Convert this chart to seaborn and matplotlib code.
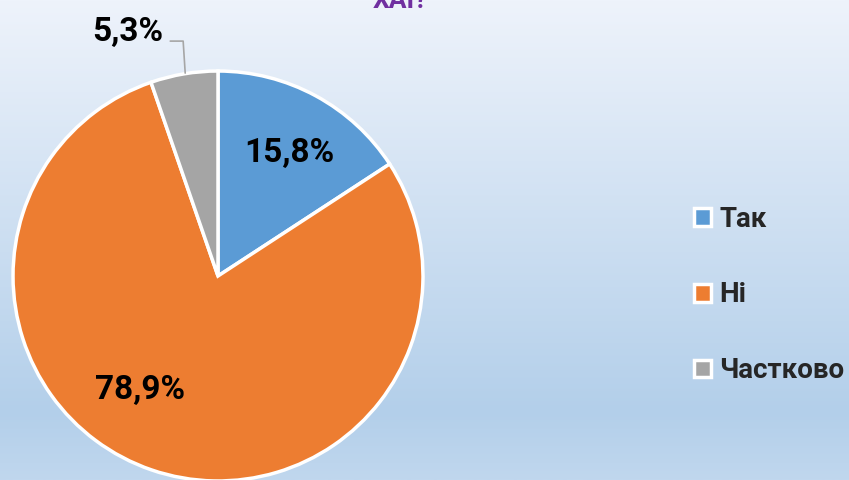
import matplotlib
matplotlib.use('Agg')
import matplotlib.pyplot as plt
import numpy as np
import seaborn as sns
from matplotlib.colors import LinearSegmentedColormap

W, H = 849, 480

categories = ['Так', 'Ні', 'Частково']
shares = [15.8, 78.9, 5.3]
pct_labels = ['15,8%', '78,9%', '5,3%']
title_tail = 'ХАІ?'

sns.set_style('white')
plt.rcParams['font.family'] = ['Roboto', 'DejaVu Sans']
colors = sns.color_palette(['#5B9BD5', '#ED7D31', '#A5A5A5'])

fig = plt.figure(figsize=(W / 100, H / 100), dpi=100)

# background gradient
bg = fig.add_axes([0, 0, 1, 1], zorder=0)
grad = LinearSegmentedColormap.from_list(
    'bg', [(0.0, '#EEF3FB'), (0.86, '#B3CFEA'), (1.0, '#C0D7EE')])
bg.imshow(np.linspace(0, 1, 256).reshape(-1, 1), aspect='auto', cmap=grad,
          extent=[0, 1, 0, 1])
bg.set_axis_off()

# pie, centre at (218, 276) px, radius 206 px
cx, cy, r = 218, 276, 206
ax = fig.add_axes([(cx - r) / W, (H - cy - r) / H, 2 * r / W, 2 * r / H], zorder=1)
wedges, _ = ax.pie(shares, colors=colors, startangle=90, counterclock=False,
                   wedgeprops=dict(edgecolor='white', linewidth=2.5))
ax.set_xlim(-1.005, 1.005)
ax.set_ylim(-1.005, 1.005)
ax.set_aspect('equal')
ax.set_axis_off()

lab_font = dict(fontsize=24, fontweight='bold', color='black', ha='center', va='center')
ax.text(0.35, 0.60, pct_labels[0], **lab_font)
ax.text(-0.38, -0.555, pct_labels[1], **lab_font)
ax.text(-0.44, 1.19, pct_labels[2], clip_on=False, **lab_font)
ax.plot([-0.233, -0.170, -0.160], [1.146, 1.146, 0.99], color='#A6A6A6',
        lw=1.2, clip_on=False)

# only the last line of the title is visible at the top edge
fig.text(400 / W, 1 - 8 / H, title_tail, ha='center', va='baseline',
         fontsize=19, fontweight='bold', color='#7030A0')

fig.legend(wedges, categories, loc='center left',
           bbox_to_anchor=(694 / W, 1 - 295 / H), frameon=False,
           prop=dict(weight='bold', size=20),
           handlelength=0.6, handleheight=0.6, handletextpad=0.3,
           labelspacing=1.75, borderpad=0, borderaxespad=0)

fig.savefig('out.png', dpi=100)
